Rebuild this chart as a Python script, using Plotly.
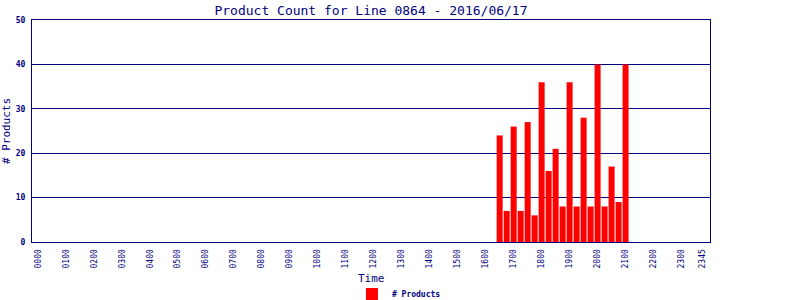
import plotly.graph_objects as go

# Data
bar_times = ["1630", "1645", "1700", "1715", "1730", "1745", "1800", "1815", "1830", "1845",
             "1900", "1915", "1930", "1945", "2000", "2015", "2030", "2045", "2100"]
bar_counts = [24, 7, 26, 7, 27, 6, 36, 16, 21, 8, 36, 8, 28, 8, 40, 8, 17, 9, 40]
tick_labels = ["0000", "0100", "0200", "0300", "0400", "0500", "0600", "0700", "0800", "0900",
               "1000", "1100", "1200", "1300", "1400", "1500", "1600", "1700", "1800", "1900",
               "2000", "2100", "2200", "2300", "2345"]
x_title = "Time"


def slot(t):
    return int(t[:2]) * 4 + int(t[2:]) // 15


NAVY = "#000080"
MONO = "DejaVu Sans Mono, Liberation Mono, monospace"

fig = go.Figure()
fig.add_trace(go.Bar(
    x=[slot(t) for t in bar_times],
    y=bar_counts,
    name="# Products",
    marker=dict(color="#ff0000", line=dict(width=0)),
    width=0.86,
))

fig.update_layout(
    width=800, height=300,
    margin=dict(l=32, r=90, t=20, b=58, autoexpand=False),
    paper_bgcolor="white", plot_bgcolor="white",
    title=dict(text="Product Count for Line 0864 - 2016/06/17",
               x=371 / 800, xanchor="center", y=1 - 10 / 300, yanchor="middle",
               font=dict(family=MONO, size=13, color=NAVY)),
    showlegend=True,
    legend=dict(orientation="h", x=433 / 800, xanchor="center",
                yref="container", y=6 / 300, yanchor="middle",
                font=dict(family=MONO, size=8, color=NAVY, weight="bold"),
                itemwidth=30, bgcolor="rgba(0,0,0,0)"),
    font=dict(family=MONO, color=NAVY),
    annotations=[dict(text=x_title, xref="paper", yref="paper", x=0.5, y=-(278 - 242) / 222,
                      xanchor="center", yanchor="middle", showarrow=False,
                      font=dict(family=MONO, size=11, color=NAVY))],
)

fig.update_xaxes(
    range=[-0.86, 96.07],
    tickmode="array",
    tickvals=[slot(t) for t in tick_labels],
    ticktext=tick_labels,
    tickangle=-90,
    tickfont=dict(family=MONO, size=8, color=NAVY),
    showgrid=False, zeroline=False,
    showline=True, linecolor=NAVY, linewidth=1, mirror=True,
    ticks="", automargin=True, ticklabelstandoff=3,
)
fig.update_yaxes(
    range=[0, 50], dtick=10,
    tickfont=dict(family=MONO, size=8, color=NAVY, weight="bold"),
    showgrid=True, gridcolor=NAVY, gridwidth=1,
    zeroline=False,
    showline=True, linecolor=NAVY, linewidth=1, mirror=True,
    ticks="", automargin=True, ticklabelstandoff=4,
    title=dict(text="# Products", font=dict(family=MONO, size=11, color=NAVY), standoff=4),
)

fig.write_html("out.html")
